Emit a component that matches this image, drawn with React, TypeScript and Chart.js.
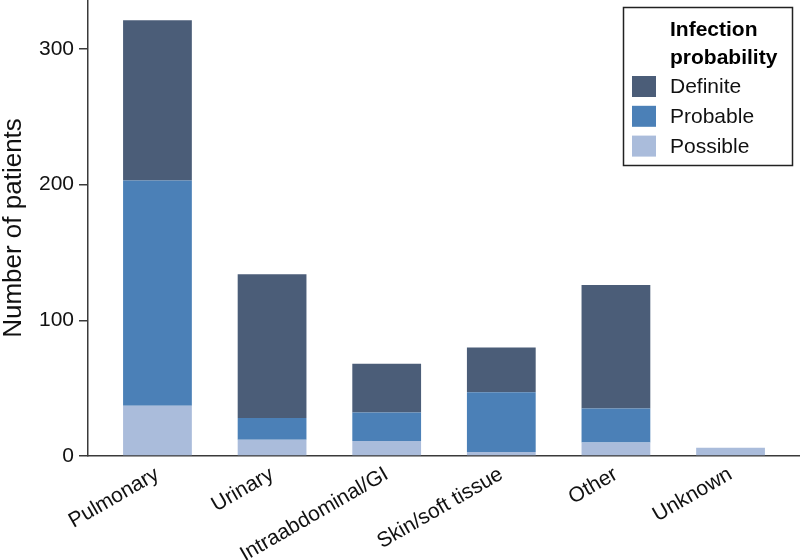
import React, { useEffect, useRef } from "react";
import { Chart, registerables } from "chart.js";

Chart.register(...registerables);

const categories = ["Pulmonary", "Urinary", "Intraabdominal/GI", "Skin/soft tissue", "Other", "Unknown"];
const possible = [37, 12, 11, 3, 10, 6];
const probable = [166, 16, 21, 44, 25, 0];
const definite = [118, 106, 36, 33, 91, 0];
const yTicks = [0, 100, 200, 300];

const COLORS = { definite: "#4b5d78", probable: "#4b80b7", possible: "#aabcdb" };
const FONT = '"Liberation Sans", Arial, Helvetica, sans-serif';
const X_MIN = -0.606;
const X_MAX = 5.606;

const boxLegend = {
  id: "boxLegend",
  afterDraw(chart: any) {
    const ctx = chart.ctx;
    const ds = [...chart.data.datasets].reverse();
    ctx.save();
    ctx.strokeStyle = "#222";
    ctx.lineWidth = 1.5;
    ctx.strokeRect(623.5, 7.5, 169, 158);
    ctx.fillStyle = "#000";
    ctx.font = `bold 21px ${FONT}`;
    ctx.textAlign = "left";
    ctx.textBaseline = "alphabetic";
    ctx.fillText("Infection", 670, 36);
    ctx.fillText("probability", 670, 64);
    ctx.font = `21px ${FONT}`;
    ctx.textBaseline = "middle";
    ds.forEach((d: any, i: number) => {
      const cy = 86.5 + i * 29.8;
      ctx.fillStyle = d.backgroundColor;
      ctx.fillRect(632, cy - 10.5, 24, 21);
      ctx.fillStyle = "#111";
      ctx.fillText(d.label, 670, cy + 1);
    });
    ctx.restore();
  },
};

export default function App() {
  const ref = useRef<HTMLCanvasElement>(null);
  useEffect(() => {
    document.body.style.margin = "0";
    const toXY = (arr: number[]) => arr.map((v, i) => ({ x: i, y: v }));
    const chart = new Chart(ref.current!, {
      type: "bar",
      data: {
        datasets: [
          { label: "Possible", data: toXY(possible), backgroundColor: COLORS.possible },
          { label: "Probable", data: toXY(probable), backgroundColor: COLORS.probable },
          { label: "Definite", data: toXY(definite), backgroundColor: COLORS.definite },
        ],
      },
      options: {
        responsive: false,
        animation: false,
        layout: { padding: 0, autoPadding: false },
        datasets: { bar: { categoryPercentage: 1, barPercentage: 0.6, borderWidth: 0 } },
        plugins: { legend: { display: false }, tooltip: { enabled: false } },
        scales: {
          x: {
            type: "linear",
            stacked: true,
            offset: false,
            bounds: "data",
            min: X_MIN,
            max: X_MAX,
            grid: { display: false, drawTicks: false, offset: false },
            border: { display: true, color: "#3a3a3a", width: 1.5 },
            afterBuildTicks: (s: any) => {
              s.ticks = categories.map((_, i) => ({ value: i }));
              s.min = X_MIN;
              s.max = X_MAX;
            },
            afterFit: (s: any) => {
              s.height = 104;
              s.paddingLeft = 0;
              s.paddingRight = 0;
            },
            ticks: {
              autoSkip: false,
              includeBounds: false,
              minRotation: 30,
              maxRotation: 30,
              padding: 6,
              color: "#111",
              font: { family: FONT, size: 21 },
              callback: (v: any) => categories[v] ?? "",
            },
          },
          y: {
            stacked: true,
            min: 0,
            max: 336,
            bounds: "data",
            afterBuildTicks: (s: any) => {
              s.ticks = yTicks.map((v) => ({ value: v }));
              s.min = 0;
              s.max = 336;
            },
            afterFit: (s: any) => {
              s.width = 88;
              s.paddingTop = 0;
              s.paddingBottom = 0;
            },
            grid: { drawOnChartArea: false, drawTicks: true, tickLength: 9, color: "#3a3a3a", lineWidth: 1.5 },
            border: { display: true, color: "#3a3a3a", width: 1.5 },
            ticks: { padding: 5, color: "#111", font: { family: FONT, size: 21 } },
            title: {
              display: true,
              text: "Number of patients",
              color: "#111",
              padding: 0,
              font: { family: FONT, size: 26, lineHeight: 1.05 },
            },
          },
        },
      },
      plugins: [boxLegend],
    });
    return () => chart.destroy();
  }, []);
  return (
    <div style={{ width: 800, height: 560 }}>
      <canvas ref={ref} width={800} height={560} />
    </div>
  );
}
